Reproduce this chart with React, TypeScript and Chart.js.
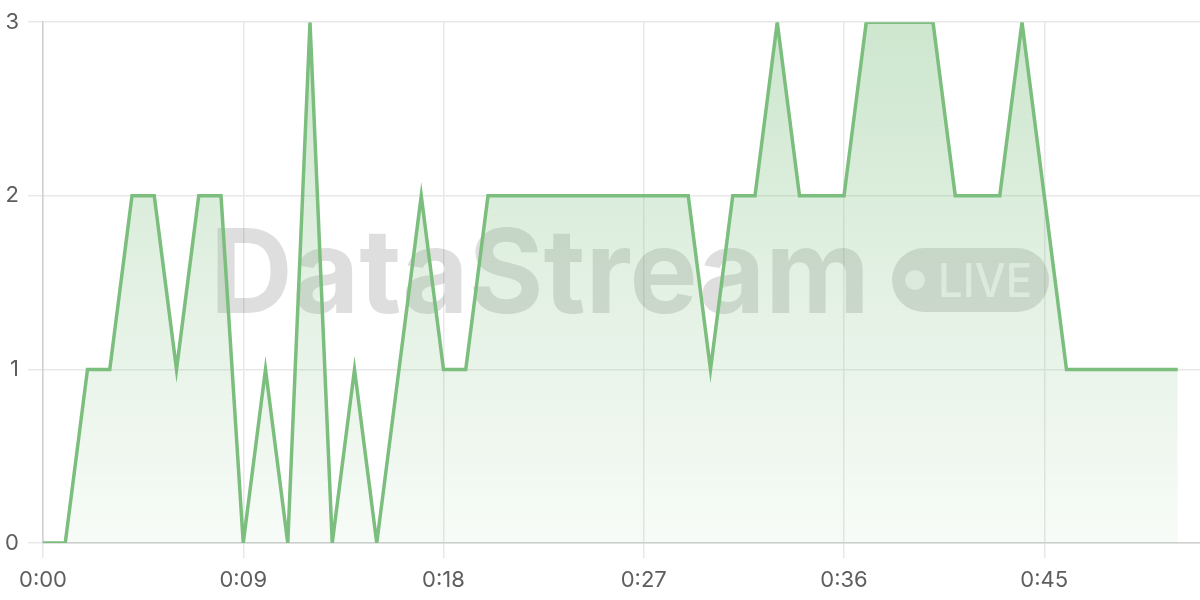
import React, { useEffect, useRef } from 'react';
import { Chart, registerables, ChartConfiguration, Plugin } from 'chart.js';
Chart.register(...registerables);

// elapsed seconds of the stream and the count seen at each second
const seconds = [
  0, 1, 2, 3, 4, 5, 6, 7, 8, 9, 10, 11, 12, 13, 14, 15, 16, 17, 18, 19, 20, 21, 22, 23, 24, 25,
  26, 27, 28, 29, 30, 31, 32, 33, 34, 35, 36, 37, 38, 39, 40, 41, 42, 43, 44, 45, 46, 47, 48, 49, 50, 51,
];
const counts = [
  0, 0, 1, 1, 2, 2, 1, 2, 2, 0, 1, 0, 3, 0, 1, 0, 1, 2, 1, 1, 2, 2, 2, 2, 2, 2,
  2, 2, 2, 2, 1, 2, 2, 3, 2, 2, 2, 3, 3, 3, 3, 2, 2, 2, 3, 2, 1, 1, 1, 1, 1, 1,
];
const xTicks = [0, 9, 18, 27, 36, 45];
const xTickLabels = ['0:00', '0:09', '0:18', '0:27', '0:36', '0:45'];
const yTicks = [0, 1, 2, 3];

const LINE = 'rgb(124, 190, 126)';
const GRID = '#e8e8e8';
const AXIS = '#d0d0d0';
const FONT = 'Inter, "Noto Sans", sans-serif';

// big faded "DataStream  (• LIVE)" mark behind the line
const watermark: Plugin = {
  id: 'watermark',
  beforeDatasetsDraw(chart) {
    const ctx = chart.ctx;
    ctx.save();
    ctx.fillStyle = 'rgba(0, 0, 0, 0.13)';
    ctx.font = `700 117px ${FONT}`;
    ctx.textBaseline = 'alphabetic';
    ctx.textAlign = 'left';
    const w = ctx.measureText('DataStream').width;
    ctx.translate(210, 313);
    ctx.scale(660 / w, 1);
    ctx.fillText('DataStream', 0, 0);
    ctx.restore();

    ctx.save();
    ctx.fillStyle = 'rgba(0, 0, 0, 0.13)';
    ctx.beginPath();
    ctx.roundRect(892, 248, 157, 64, 32);
    ctx.fill();
    ctx.fillStyle = 'rgba(255, 255, 255, 0.7)';
    ctx.beginPath();
    ctx.arc(915, 280, 10, 0, Math.PI * 2);
    ctx.fill();
    ctx.font = `500 47px ${FONT}`;
    ctx.textBaseline = 'alphabetic';
    const lw = ctx.measureText('LIVE').width;
    ctx.translate(938, 297);
    ctx.scale(94 / lw, 1);
    ctx.fillText('LIVE', 0, 0);
    ctx.restore();
  },
};

const App: React.FC = () => {
  const canvasRef = useRef<HTMLCanvasElement>(null);
  const chartRef = useRef<Chart | null>(null);

  useEffect(() => {
    document.body.style.margin = '0';
    if (!canvasRef.current) return;
    const ctx = canvasRef.current.getContext('2d');
    if (!ctx) return;

    const config: ChartConfiguration<'line'> = {
      type: 'line',
      data: {
        datasets: [
          {
            label: 'Count',
            data: seconds.map((s, i) => ({ x: s, y: counts[i] })),
            borderColor: LINE,
            borderWidth: 3.5,
            pointRadius: 0,
            tension: 0,
            fill: 'origin',
            backgroundColor: (c: any) => {
              const area = c.chart.chartArea;
              if (!area) return 'rgba(124,190,126,0.2)';
              const g = c.chart.ctx.createLinearGradient(0, area.top, 0, area.bottom);
              g.addColorStop(0, 'rgba(124, 190, 126, 0.38)');
              g.addColorStop(1, 'rgba(124, 190, 126, 0.06)');
              return g;
            },
          },
        ],
      },
      options: {
        animation: false,
        responsive: true,
        maintainAspectRatio: false,
        layout: { padding: { top: 20, right: 0, left: 0, bottom: 0 } },
        plugins: { legend: { display: false }, tooltip: { enabled: false } },
        scales: {
          x: {
            type: 'linear',
            min: 0,
            max: 52,
            afterBuildTicks: (scale: any) => {
              scale.ticks = xTicks.map((v) => ({ value: v }));
            },
            afterFit: (scale: any) => {
              scale.height = 57;
            },
            ticks: {
              color: '#5e5e5e',
              font: { family: FONT, size: 22 },
              padding: 9,
              maxRotation: 0,
              callback: (v: any) => xTickLabels[xTicks.indexOf(Number(v))] ?? '',
            },
            grid: { color: GRID, tickLength: 15, lineWidth: 1.5 },
            border: { color: AXIS, width: 1.5 },
          },
          y: {
            min: 0,
            max: 3,
            afterBuildTicks: (scale: any) => {
              scale.ticks = yTicks.map((v) => ({ value: v }));
            },
            afterFit: (scale: any) => {
              scale.width = 43;
            },
            ticks: {
              color: '#5e5e5e',
              font: { family: FONT, size: 22 },
              padding: 9,
            },
            grid: { color: GRID, tickLength: 15, lineWidth: 1.5 },
            border: { color: AXIS, width: 1.5 },
          },
        },
      },
      plugins: [watermark],
    };

    chartRef.current = new Chart(ctx, config);
    return () => {
      chartRef.current?.destroy();
      chartRef.current = null;
    };
  }, []);

  return (
    <div style={{ position: 'relative', width: 1200, height: 600 }}>
      <canvas ref={canvasRef}></canvas>
    </div>
  );
};

export default App;
